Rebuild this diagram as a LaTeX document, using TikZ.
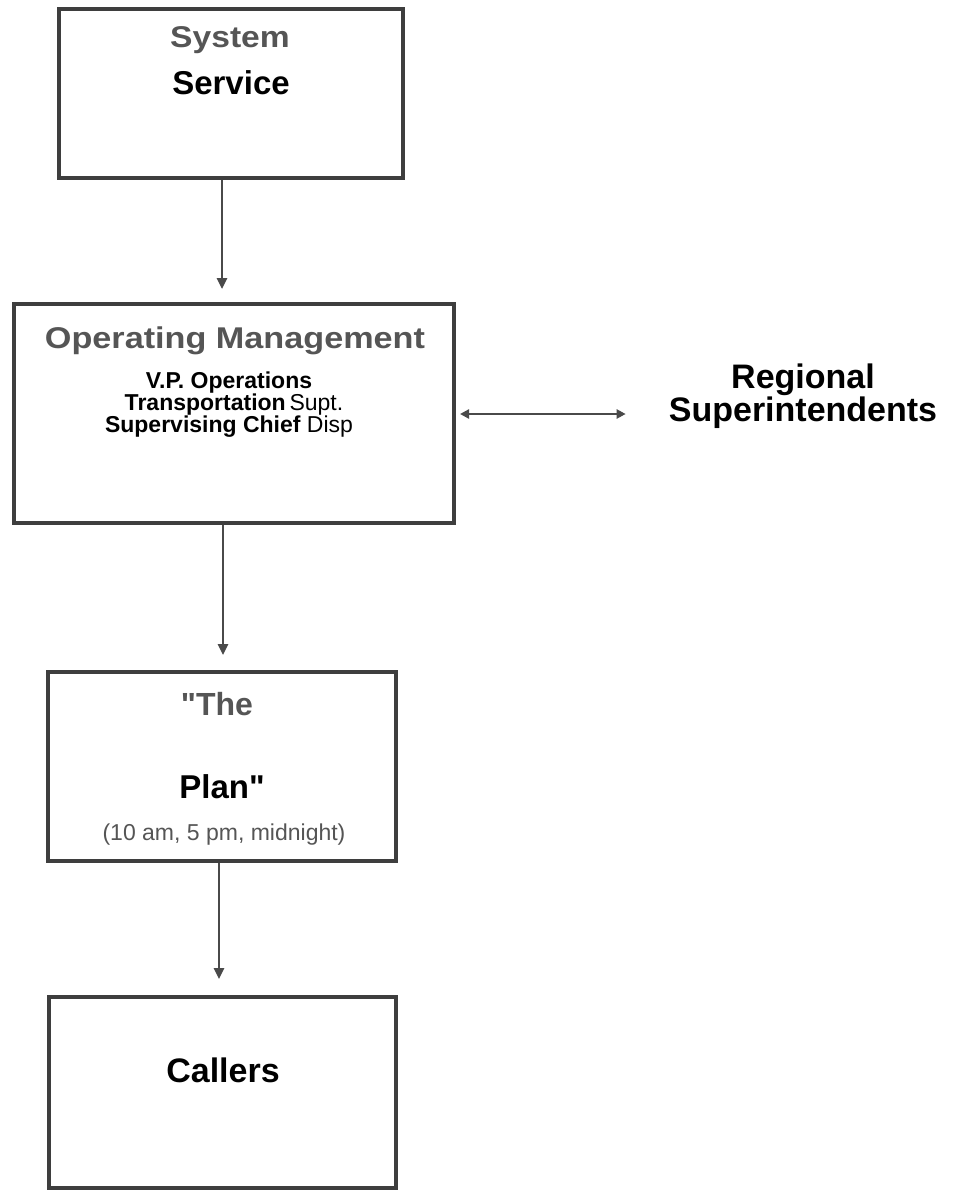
\documentclass[tikz,border=0pt]{standalone}
\usepackage{fontspec}
\setmainfont{Liberation Sans}
\newfontfamily\rawqfont{Liberation Sans}
\usetikzlibrary{arrows.meta}
\definecolor{boxgray}{HTML}{3E3E3E}
\definecolor{arrgray}{HTML}{4A4A4A}
\definecolor{txtgray}{HTML}{555555}
\newcommand{\fs}[1]{\fontsize{#1pt}{#1pt}\selectfont}
\newcommand{\wide}[2]{\scalebox{#1}[1]{#2}}
\newcommand{\dq}{{\rawqfont\symbol{34}}}
\tikzset{
  box/.style={draw=boxgray, line width=4pt, rectangle, fill=white},
  lbl/.style={inner sep=0pt, anchor=base, font=\bfseries},
  arr/.style={draw=arrgray, line width=2.6pt, -{Triangle[width=10pt,length=11pt]}},
  darr/.style={draw=arrgray, line width=2.6pt, {Triangle[width=9pt,length=9pt]}-{Triangle[width=9pt,length=9pt]}}
}
\begin{document}
\begin{tikzpicture}[x=1pt,y=-1pt]
\useasboundingbox[fill=white] (0,0) rectangle (962,1193);
% boxes
\node[box, minimum width=344pt, minimum height=169pt] (b1) at (231,93.5) {};
\node[box, minimum width=440pt, minimum height=219pt] (b2) at (234,413.5) {};
\node[box, minimum width=348pt, minimum height=189pt] (b3) at (222,766.5) {};
\node[box, minimum width=347pt, minimum height=191pt] (b4) at (222.5,1092.5) {};
% texts
\node[lbl, text=txtgray] (t1) at (230,48) {\fs{30}\wide{1.12}{System}};
\node[lbl] (t2) at (231,95) {\fs{33}Service};
\node[lbl, text=txtgray] (t3) at (235,348) {\fs{30}\wide{1.14}{Operating Management}};
\node[lbl] (t4) at (229,388) {\fs{23}V.P. Operations};
\node[lbl] (t5) at (234,410) {\fs{23}Transportation\,\mdseries Supt.};
\node[lbl] (t6) at (229,432) {\fs{23}Supervising Chief \mdseries Disp};
\node[inner sep=0pt, anchor=north, align=center, font=\bfseries\fontsize{34pt}{25pt}\selectfont] (reg) at (803,364) {Regional\\Superintendents};
\node[lbl, text=txtgray] (t7) at (217,715) {\fs{32}\dq The};
\node[lbl] (t8) at (222,798) {\fs{33}Plan\dq};
\node[lbl, text=txtgray, font=\mdseries] (t9) at (224,840) {\fs{23}(10 am, 5 pm, midnight)};
\node[lbl] (t10) at (223,1082) {\fs{34}Callers};
% arrow coordinates
\coordinate (x1) at (222,0);
\coordinate (x2) at (223,0);
\coordinate (x3) at (219,0);
\coordinate (yr) at (0,414);
% connectors
\draw[arr, shorten >=13pt] (b1.south -| x1) -- (b2.north -| x1);
\draw[arr, shorten >=15pt] (b2.south -| x2) -- (b3.north -| x2);
\draw[arr, shorten >=16pt] (b3.south -| x3) -- (b4.north -| x3);
\draw[darr, shorten <=4pt, shorten >=43pt] (b2.east |- yr) -- (reg.west |- yr);
\end{tikzpicture}
\end{document}
